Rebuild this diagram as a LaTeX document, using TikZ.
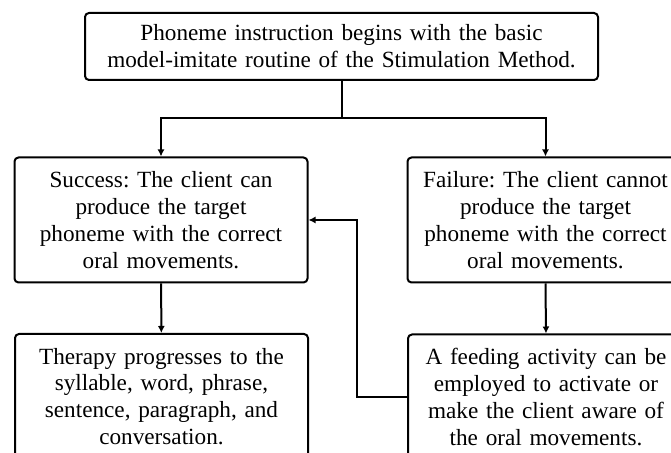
\documentclass[tikz,border=0pt]{standalone}
\usepackage{fontspec}
\setmainfont{Liberation Serif}
\frenchspacing
\usetikzlibrary{arrows.meta,positioning}

\tikzset{
  stepbox/.style={draw, line width=1pt, rounded corners=2pt, inner sep=0pt,
    align=center, font=\fontsize{11.6}{13.4}\selectfont},
  wide/.style={stepbox, minimum width=146.5pt, minimum height=62.5pt, text width=142pt},
  narrow/.style={stepbox, minimum width=138pt, minimum height=62.5pt, text width=136pt},
  link/.style={line width=1pt, -{Latex[length=3.5pt,width=3.5pt]}}
}

\begin{document}
\begin{tikzpicture}[x=0.5pt,y=-0.5pt]
  \useasboundingbox (0,0) rectangle (671,453);
  \clip (0,0) rectangle (671,453);
  \node[stepbox, minimum width=256.5pt, minimum height=33.5pt, text width=252pt] (start) at (341.5,46.5)
    {Phoneme instruction begins with the basic\\model-imitate routine of the Stimulation Method.};
  \node[wide] (success) at (161,220)
    {Success: The client can\\produce the target\\phoneme with the correct\\oral movements.};
  \node[narrow] (failure) at (545.5,220)
    {Failure: The client cannot\\produce the target\\phoneme with the correct\\oral movements.};
  \node[wide] (therapy) at (161.5,396.5)
    {Therapy progresses to the\\syllable, word, phrase,\\sentence, paragraph, and\\conversation.};
  \node[narrow] (feeding) at (546,397)
    {A feeding activity can be\\employed to activate or\\make the client aware of\\the oral movements.};
  \coordinate (split) at (341.5,118);
  \draw[line width=1pt] (start.south) -- (split);
  \draw[link] (split) -| (success.north);
  \draw[link] (split) -| (failure.north);
  \draw[link] (success) -- (therapy);
  \draw[link] (failure.south) -- (feeding.north);
  \draw[link] (feeding.west) -- ++(-50,0) |- (success.east);
\end{tikzpicture}
\end{document}
